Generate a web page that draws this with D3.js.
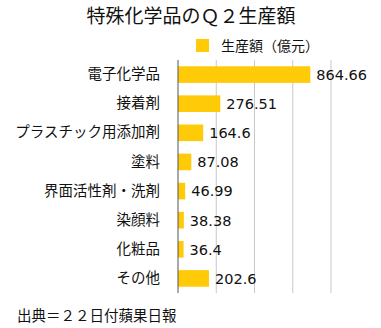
<!DOCTYPE html>
<html><head><meta charset="utf-8">
<script src="https://cdn.jsdelivr.net/npm/d3@7"></script>
<style>body{margin:0;background:#fff;} svg{display:block;font-family:"Noto Sans CJK JP",sans-serif;}</style>
</head><body>
<script>
const categories = ["電子化学品","接着剤","プラスチック用添加剤","塗料","界面活性剤・洗剤","染顔料","化粧品","その他"];
const values = [864.66, 276.51, 164.6, 87.08, 46.99, 38.38, 36.4, 202.6];
const xTicks = [250, 500, 750, 1000];

const W = 381, H = 328;
const svg = d3.select("body").append("svg").attr("width", W).attr("height", H);
const plotLeft = 178, plotRight = 331, plotTop = 60, plotBottom = 293;
const barColor = "#FFCA08";

const x = d3.scaleLinear().domain([0, 1000]).range([plotLeft, plotRight]);
const y = d3.scaleBand().domain(categories).range([plotTop, plotBottom]).paddingInner(0.43).paddingOuter(0.215);

// gridlines
svg.append("g").selectAll("line").data(xTicks).join("line")
  .attr("x1", d => x(d)).attr("x2", d => x(d))
  .attr("y1", plotTop).attr("y2", plotBottom)
  .attr("stroke", "#c8c8c8").attr("stroke-width", 1);

// bars
svg.append("g").selectAll("rect").data(values).join("rect")
  .attr("x", x(0)).attr("y", (d, i) => y(categories[i]))
  .attr("width", d => x(d) - x(0)).attr("height", y.bandwidth())
  .attr("fill", barColor);

// value labels
svg.append("g").selectAll("text").data(values).join("text")
  .attr("x", d => x(d) + 6).attr("y", (d, i) => y(categories[i]) + y.bandwidth() / 2)
  .attr("dy", "0.37em").attr("font-size", 14.5).attr("fill", "#111")
  .attr("font-family", "'DejaVu Sans',sans-serif")
  .text(d => d);

// category axis
const yAxis = svg.append("g").attr("transform", `translate(${plotLeft},0)`)
  .call(d3.axisLeft(y).tickSize(0).tickPadding(18));
yAxis.select(".domain").attr("stroke", "#555").attr("d", `M0,${plotTop}V${plotBottom}`);
yAxis.selectAll("text").attr("font-size", 14.5).attr("fill", "#111")
  .attr("font-family", "'Noto Sans CJK JP',sans-serif");

// title
svg.append("text").attr("x", 191).attr("y", 23).attr("text-anchor", "middle")
  .attr("font-size", 19).attr("fill", "#111").text("特殊化学品のＱ２生産額");

// legend
svg.append("rect").attr("x", 196).attr("y", 39).attr("width", 13).attr("height", 13).attr("fill", barColor);
svg.append("text").attr("x", 221).attr("y", 51).attr("font-size", 14).attr("fill", "#111").text("生産額（億元）");

// source note
svg.append("text").attr("x", 17).attr("y", 321).attr("font-size", 14.5).attr("fill", "#111").text("出典＝２２日付蘋果日報");
</script>
</body></html>
